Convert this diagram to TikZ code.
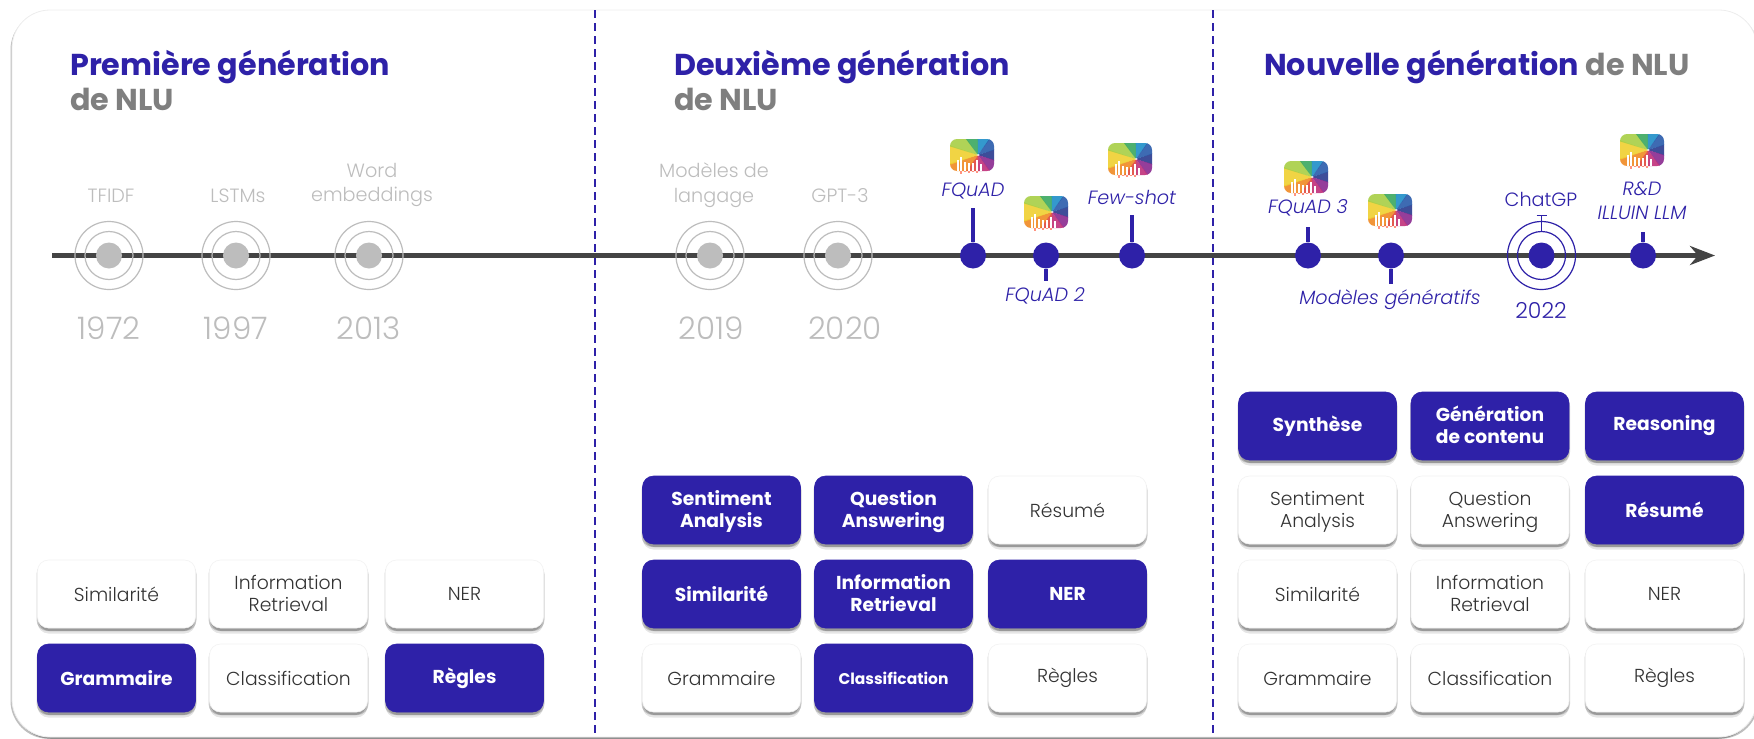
\documentclass[tikz,border=0pt]{standalone}
\usepackage{fontspec}
\usepackage{xcolor}
\setmainfont{Poppins}
\newfontfamily\lightfont{Poppins Light}
\usetikzlibrary{arrows.meta, shadows}

\definecolor{nlublue}{HTML}{2E21A8}
\definecolor{nlugrey}{HTML}{7F7F7F}
\definecolor{fadegrey}{HTML}{BDBDBD}
\definecolor{axisgrey}{HTML}{444444}

\newcommand{\twolines}[2]{\rule{0pt}{18.6pt}#1\\#2\rule[-5pt]{0pt}{5pt}}

\tikzset{
  softshadow/.style={drop shadow={shadow xshift=0pt,shadow yshift=-5.5pt,opacity=.1,fill=black},
                     drop shadow={shadow xshift=-1pt,shadow yshift=-3pt,opacity=.18,fill=black},
                     drop shadow={shadow xshift=1pt,shadow yshift=-3pt,opacity=.18,fill=black}},
  whitebox/.style={rectangle, rounded corners=11pt, minimum width=158pt, minimum height=68pt,
                   align=center, inner sep=0pt, fill=white, draw=black!5, line width=0.6pt, softshadow, text=black!80,
                   font=\lightfont\fontsize{18.8}{22}\selectfont},
  bluebox/.style={whitebox, fill=nlublue, draw=nlublue, text=white, font=\bfseries\fontsize{18.7}{22}\selectfont},
  gendot/.style={circle, fill=#1, minimum size=26pt, inner sep=0pt},
  genring/.style={circle, draw=#1, line width=1.2pt, inner sep=0pt},
  oldlabel/.style={text=fadegrey, align=center, inner sep=0pt, font=\lightfont\fontsize{19.2}{24.5}\selectfont},
  oldyear/.style={text=fadegrey, inner sep=0pt, font=\lightfont\fontsize{31}{31}\selectfont},
  newlabel/.style={text=nlublue, align=center, inner sep=0pt, font=\lightfont\itshape\fontsize{19.2}{24}\selectfont},
  gentitle/.style={anchor=base west, inner sep=0pt, font=\bfseries\fontsize{30.2}{30.2}\selectfont},
  stem/.style={draw=nlublue, line width=3.5pt},
  pics/logotile/.style={code={
    \begin{scope}
      \clip[rounded corners=7pt] (-22,-17) rectangle (22,15);
      \foreach \c [count=\i from 0] in {2A3A8F,8A2A90,C0307A,E0483C,F08A24,F0D030,A8CF45,3AA860,1F8FC8,2A5CAB} {
        \definecolor{wedge}{HTML}{\c}
        \fill[wedge, opacity=.9] (6,-1) -- +({\i*36-19}:60) -- +({\i*36+19}:60) -- cycle;
      }
    \end{scope}
    \foreach \x/\y in {-14/4,-11/1,-7/6,-3/7,1/7,5/4,9/8}
      \draw[white, line width=1.3pt] (\x,\y) -- (\x,15);
    \foreach \x/\y in {-11/18,-7/16,-3/17,1/16,5/17}
      \draw[red!70!orange!50, line width=1.2pt] (\x,15) -- (\x,\y);
    \fill[white] (6,-1) circle (1pt);
  }}
}

\begin{document}
\begin{tikzpicture}[x=1pt, y=-1pt]
  \useasboundingbox (0,0) rectangle (1754,739);

  % Card
  \path[fill=white, draw=black!7, line width=0.8pt, rounded corners=38pt,
        drop shadow={shadow xshift=1.5pt,shadow yshift=-1.8pt,opacity=.25,fill=black},
        drop shadow={shadow xshift=-1.5pt,shadow yshift=-1.8pt,opacity=.25,fill=black}]
    (12,10) rectangle (1757,737);

  % Separators
  \coordinate (sepa) at (595,10);
  \coordinate (sepb) at (595,733);
  \coordinate (sepc) at (1213,10);
  \coordinate (sepd) at (1213,733);
  \draw[nlublue, line width=2pt, dash pattern=on 8pt off 5pt] (sepa) -- (sepb);
  \draw[nlublue, line width=2pt, dash pattern=on 8pt off 5pt] (sepc) -- (sepd);

  % Titles
  \node[gentitle, text=nlublue] (titlea) at (70,75) {Première génération};
  \node[gentitle, text=nlugrey] (titleb) at (70,110) {de NLU};
  \node[gentitle, text=nlublue] (titlec) at (674,75) {Deuxième génération};
  \node[gentitle, text=nlugrey] (titled) at (674,110) {de NLU};
  \node[gentitle] (titlee) at (1264,75) {\textcolor{nlublue}{Nouvelle génération} \textcolor{nlugrey}{de NLU}};

  % Timeline
  \coordinate (axisa) at (52,255.5);
  \coordinate (axisb) at (1715,255.5);
  \draw[axisgrey, line width=4.4pt, -{Stealth[length=25pt, width=19pt, inset=8pt]}] (axisa) -- (axisb);

  % Old milestones
  \foreach \name/\x/\yx/\year in {tfidf/109/109/1972, lstm/236/236/1997, word/369/369/2013, lang/710/711/2019, gpt/838/845/2020} {
    \node[gendot=fadegrey] (\name) at (\x,255.5) {};
    \node[genring=fadegrey, minimum size=48pt] (\name ringa) at (\x,255.5) {};
    \node[genring=fadegrey, minimum size=68pt] (\name ringb) at (\x,255.5) {};
    \node[oldyear] (\name year) at (\yx,328.5) {\year};
  }
  \node[oldlabel] (tfidflabel) at (111,196) {TFIDF};
  \node[oldlabel] (lstmlabel) at (238,196) {LSTMs};
  \node[oldlabel] (wordlabel) at (372,185) {Word\\embeddings};
  \node[oldlabel] (langlabel) at (714,185) {Modèles de\\langage};
  \node[oldlabel] (gptlabel) at (840,196) {GPT-3};

  % New milestones
  \foreach \name/\x/\tip in {fquad/973/208, fquadb/1046/281, fewshot/1132/215, fquadc/1308/227, gener/1391/284, illuin/1643/232} {
    \node[gendot=nlublue] (\name) at (\x,255.5) {};
    \coordinate (\name tip) at (\x,\tip);
    \draw[stem] (\name) -- (\name tip);
  }
  \node[gendot=nlublue] (chatgpt) at (1541.5,255.5) {};
  \node[genring=nlublue, minimum size=48pt] (chatringa) at (1541.5,255.5) {};
  \node[genring=nlublue, minimum size=68pt] (chatringb) at (1541.5,255.5) {};
  \coordinate (chattip) at (1541.5,215);
  \draw[nlublue, line width=1.2pt, {Bar[width=10pt]}-] (chattip) -- (chatringa.north);

  \node[newlabel] (fquadlabel) at (973,191) {FQuAD};
  \node[newlabel] (fquadblabel) at (1045,296) {FQuAD 2};
  \node[newlabel] (fewshotlabel) at (1132,197) {Few-shot};
  \node[newlabel] (fquadclabel) at (1308,208) {FQuAD 3};
  \node[newlabel] (generlabel) at (1390,300) {Modèles génératifs};
  \node[newlabel] (illuinlabel) at (1642,201) {R\&D\\ILLUIN LLM};
  \node[newlabel, font=\lightfont\fontsize{19.2}{24}\selectfont] (chatlabel) at (1541,199) {ChatGP};
  \node[newlabel, font=\lightfont\fontsize{22}{24}\selectfont] (chatyear) at (1541,310) {2022};

  % Logos
  \foreach \x/\y in {972/156, 1046/213, 1130/160, 1306/178, 1390/211, 1642/151}
    \pic at (\x,\y) {logotile};

  % First generation boxes
  \node[whitebox] (simia) at (116.5,594) {Similarité};
  \node[whitebox] (infoa) at (288.5,594) {\twolines{Information}{Retrieval}};
  \node[whitebox] (nera) at (464.5,594) {NER};
  \node[bluebox] (grama) at (116.5,678) {Grammaire};
  \node[whitebox] (classa) at (288.5,678) {Classification};
  \node[bluebox] (reglea) at (464.5,678) {Règles};

  % Second generation boxes
  \node[bluebox] (sentb) at (721.5,510) {\twolines{Sentiment}{Analysis}};
  \node[bluebox] (questb) at (893.5,510) {\twolines{Question}{Answering}};
  \node[whitebox] (resumb) at (1067.5,510) {Résumé};
  \node[bluebox] (simib) at (721.5,594) {Similarité};
  \node[bluebox] (infob) at (893.5,594) {\twolines{Information}{Retrieval}};
  \node[bluebox] (nerb) at (1067.5,594) {NER};
  \node[whitebox] (gramb) at (721.5,678) {Grammaire};
  \node[bluebox, font=\bfseries\fontsize{15.5}{18}\selectfont] (classb) at (893.5,678) {Classification};
  \node[whitebox] (regleb) at (1067.5,678) {Règles};

  % New generation boxes
  \node[bluebox] (synthc) at (1317.5,426) {Synthèse};
  \node[bluebox] (generc) at (1490,426) {\twolines{Génération}{de contenu}};
  \node[bluebox] (reasonc) at (1664.5,426) {Reasoning};
  \node[whitebox] (sentc) at (1317.5,510) {\twolines{Sentiment}{Analysis}};
  \node[whitebox] (questc) at (1490,510) {\twolines{Question}{Answering}};
  \node[bluebox] (resumc) at (1664.5,510) {Résumé};
  \node[whitebox] (simic) at (1317.5,594) {Similarité};
  \node[whitebox] (infoc) at (1490,594) {\twolines{Information}{Retrieval}};
  \node[whitebox] (nerc) at (1664.5,594) {NER};
  \node[whitebox] (gramc) at (1317.5,678) {Grammaire};
  \node[whitebox] (classc) at (1490,678) {Classification};
  \node[whitebox] (reglec) at (1664.5,678) {Règles};

\end{tikzpicture}
\end{document}
